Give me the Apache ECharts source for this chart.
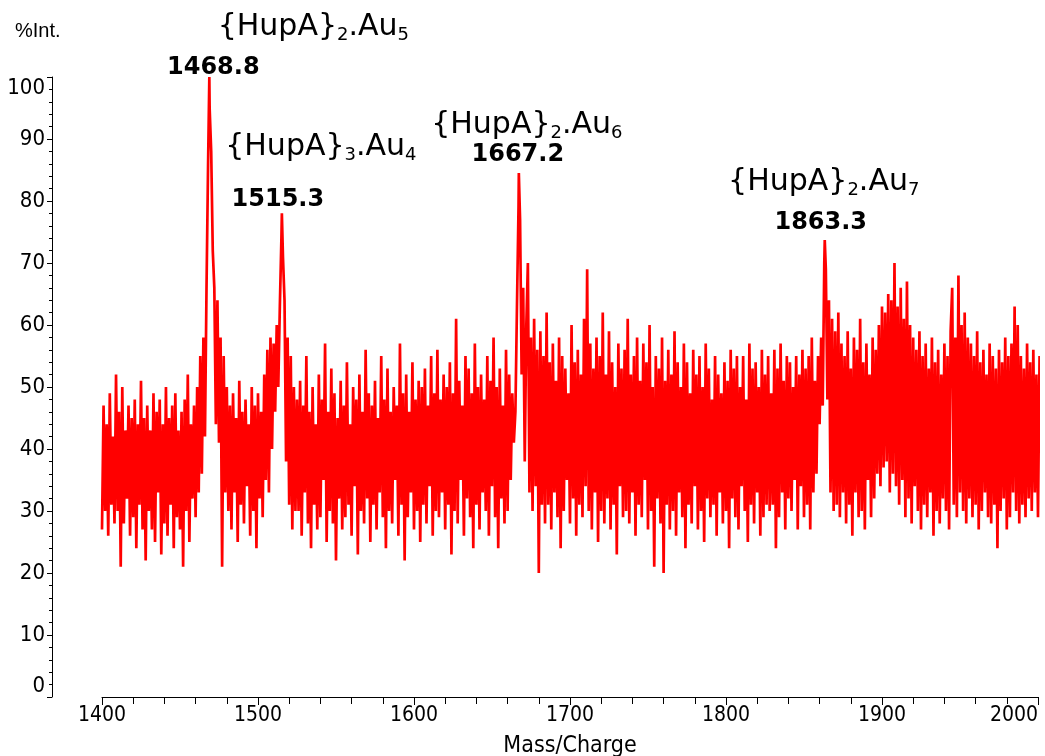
<!DOCTYPE html>
<html>
<head>
<meta charset="utf-8">
<script src="https://cdn.jsdelivr.net/npm/echarts@6/dist/echarts.min.js"></script>
<style>
  html, body { margin: 0; padding: 0; background: #ffffff; }
  #chart { width: 1045px; height: 756px; }
</style>
</head>
<body>
<div id="chart"></div>
<script>
// MALDI spectrum, m/z 1400–2001 sampled every 1 m/z unit (% relative intensity)
const mzStart = 1400;
const mzStep = 1;
const intensity = [
  27,47,30,44,26,49,31,42,28,52,  // 1400
  30,46,21,50,28,43,32,47,26,45,  // 1410
  29,48,24,44,31,51,27,45,22,47,  // 1420
  30,43,27,49,25,46,33,48,23,44,  // 1430
  28,50,26,45,31,47,24,49,29,43,  // 1440
  27,46,21,48,30,52,25,44,32,47,  // 1450
  29,50,33,55,36,58,42,66,86,95,  // 1460
  88,72,66,44,64,41,58,21,55,33,  // 1470
  50,30,47,27,49,33,45,25,51,31,  // 1480
  46,28,48,34,44,26,50,30,47,24,  // 1490
  49,32,46,29,52,35,56,33,58,40,  // 1500
  57,46,60,50,63,74,71,64,38,58,  // 1510
  31,55,27,50,30,48,30,51,26,47,  // 1520
  33,55,28,46,24,50,31,44,27,52,  // 1530
  29,48,35,57,25,46,30,53,28,49,  // 1540
  22,45,32,51,27,47,29,54,31,44,  // 1550
  26,50,34,48,23,52,30,46,28,56,  // 1560
  32,49,25,47,31,51,27,45,33,55,  // 1570
  29,48,24,53,30,46,28,50,35,47,  // 1580
  26,57,31,49,22,52,29,46,33,54,  // 1590
  27,48,30,51,25,50,31,53,28,47,  // 1600
  34,55,26,49,30,56,29,48,33,52,  // 1610
  27,50,31,54,23,49,30,61,28,51,  // 1620
  35,47,26,55,32,53,29,49,24,57,  // 1630
  31,50,27,52,33,48,30,55,26,51,  // 1640
  34,58,29,50,24,53,32,47,28,56,  // 1650
  30,52,35,49,41,46,63,79,77,52,  // 1660
  66,38,60,70,33,58,30,61,34,56,  // 1670
  20,59,31,55,28,62,31,54,27,57,  // 1680
  33,51,29,58,24,55,30,53,35,49,  // 1690
  28,60,32,54,26,56,31,52,29,61,  // 1700
  34,69,30,57,27,53,33,58,25,55,  // 1710
  30,62,28,52,32,59,27,54,31,50,  // 1720
  23,57,34,53,29,56,30,61,28,52,  // 1730
  33,55,26,58,31,51,29,57,35,54,  // 1740
  27,60,30,50,21,55,32,53,28,58,  // 1750
  20,51,31,56,27,52,30,59,26,54,  // 1760
  33,50,29,57,24,54,31,49,28,56,  // 1770
  34,52,27,55,30,50,25,57,32,53,  // 1780
  29,48,31,55,26,52,33,49,28,54,  // 1790
  30,51,24,56,32,53,29,55,27,50,  // 1800
  34,55,30,48,25,57,31,53,28,54,  // 1810
  33,50,26,56,29,52,31,55,30,49,  // 1820
  31,56,24,53,29,57,33,51,27,55,  // 1830
  32,54,30,50,35,55,27,52,34,56,  // 1840
  29,53,31,55,27,58,33,51,36,55,  // 1850
  44,58,47,70,69,48,64,33,61,30,  // 1860
  59,31,62,29,57,33,55,28,59,31,  // 1870
  53,26,58,33,56,29,61,30,54,27,  // 1880
  57,35,52,29,58,32,56,36,60,34,  // 1890
  63,37,62,38,65,33,64,36,70,34,  // 1900
  63,31,66,35,61,29,67,32,60,28,  // 1910
  58,34,56,30,59,27,55,31,57,29,  // 1920
  53,33,58,26,54,30,56,28,52,32,  // 1930
  57,30,55,27,59,66,31,58,29,68,  // 1940
  33,60,30,62,28,58,32,57,29,55,  // 1950
  31,59,27,54,30,56,33,52,29,57,  // 1960
  28,55,31,53,24,56,30,54,32,58,  // 1970
  27,55,29,57,33,63,30,60,28,55,  // 1980
  31,53,29,57,32,54,30,56,33,52,  // 1990
  29,55                           // 2000
];

// Labelled peak apexes
const peakMz = [1468.8, 1515.3, 1667.2, 1863.3];
const peakIntensity = [100, 78, 84.5, 73.7];
const peakFormula = [
  '{HupA}{s|2}.Au{s|5}',
  '{HupA}{s|3}.Au{s|4}',
  '{HupA}{s|2}.Au{s|6}',
  '{HupA}{s|2}.Au{s|7}'
];

// Label placement around each apex (px)
const numberOffset = [[4, -9], [-4, -14], [-1, -18], [-4, -17]];
const formulaOffset = [[104, -50], [39, -66], [8, -48], [-1, -58]];

// Merge the sampled trace with the apex points, ordered by m/z
const trace = intensity.map((v, i) => [mzStart + i * mzStep, v]);
peakMz.forEach((mz, i) => trace.push([mz, peakIntensity[i]]));
trace.sort((a, b) => a[0] - b[0]);

const axisFont = "'Liberation Sans Narrow', 'DejaVu Sans Condensed', sans-serif";

const chart = echarts.init(document.getElementById('chart'), null, { renderer: 'canvas' });
chart.setOption({
  animation: false,
  backgroundColor: '#ffffff',
  title: {
    text: '%Int.',
    left: 10,
    top: 16,
    textStyle: { fontFamily: "'Liberation Sans', Arial, sans-serif", fontSize: 20, fontWeight: 'normal', color: '#000' }
  },
  grid: { left: 102, right: 7, top: 77, bottom: 59, containLabel: false, outerBoundsMode: 'none' },
  xAxis: {
    type: 'value',
    min: 1400,
    max: 2000,
    interval: 100,
    name: 'Mass/Charge',
    nameLocation: 'middle',
    nameGap: 38,
    nameTextStyle: { fontFamily: axisFont, fontSize: 23, color: '#000' },
    axisLine: { show: true, lineStyle: { color: '#000', width: 1 } },
    axisTick: { show: true, length: 8, lineStyle: { color: '#000' } },
    minorTick: { show: true, splitNumber: 5, length: 7, lineStyle: { color: '#000' } },
    splitLine: { show: false },
    axisLabel: {
      fontFamily: axisFont, fontSize: 21, color: '#000', margin: 8, alignMaxLabel: 'right',
      formatter: v => String(v)
    }
  },
  yAxis: {
    type: 'value',
    min: 0,
    max: 100,
    interval: 10,
    offset: 50,
    axisLine: { show: true, lineStyle: { color: '#000', width: 1 } },
    axisTick: { show: true, length: 5, lineStyle: { color: '#000' } },
    minorTick: { show: true, splitNumber: 5, length: 3, lineStyle: { color: '#000' } },
    splitLine: { show: false },
    axisLabel: {
      fontFamily: axisFont, fontSize: 22, color: '#000', margin: 7,
      verticalAlignMaxLabel: 'top', verticalAlignMinLabel: 'bottom'
    }
  },
  series: [
    {
      type: 'line',
      data: trace,
      symbol: 'none',
      silent: true,
      lineStyle: { color: '#ff0000', width: 2.7, join: 'miter', miterLimit: 2 },
      emphasis: { disabled: true }
    },
    {
      type: 'scatter',
      data: peakMz.map((mz, i) => ({
        value: [mz, peakIntensity[i]],
        label: { offset: numberOffset[i] }
      })),
      symbolSize: 0,
      silent: true,
      itemStyle: { opacity: 1 },
      label: {
        show: true,
        position: 'inside',
        formatter: p => peakMz[p.dataIndex].toFixed(1),
        fontFamily: "'DejaVu Sans', sans-serif",
        fontWeight: 'bold',
        fontSize: 24,
        color: '#000000',
        opacity: 1,
        textBorderWidth: 0
      }
    },
    {
      type: 'scatter',
      data: peakMz.map((mz, i) => ({
        value: [mz, peakIntensity[i]],
        label: { offset: formulaOffset[i] }
      })),
      symbolSize: 0,
      silent: true,
      itemStyle: { opacity: 1 },
      label: {
        show: true,
        position: 'inside',
        formatter: p => peakFormula[p.dataIndex],
        fontFamily: "'DejaVu Sans', sans-serif",
        fontSize: 30,
        lineHeight: 34,
        color: '#000000',
        opacity: 1,
        textBorderWidth: 0,
        rich: {
          s: {
            fontFamily: "'DejaVu Sans', sans-serif",
            fontSize: 18,
            lineHeight: 18,
            padding: [17, 0, 0, 0],
            verticalAlign: 'bottom',
            color: '#000000',
            textBorderWidth: 0
          }
        }
      }
    }
  ]
});
</script>
</body>
</html>
